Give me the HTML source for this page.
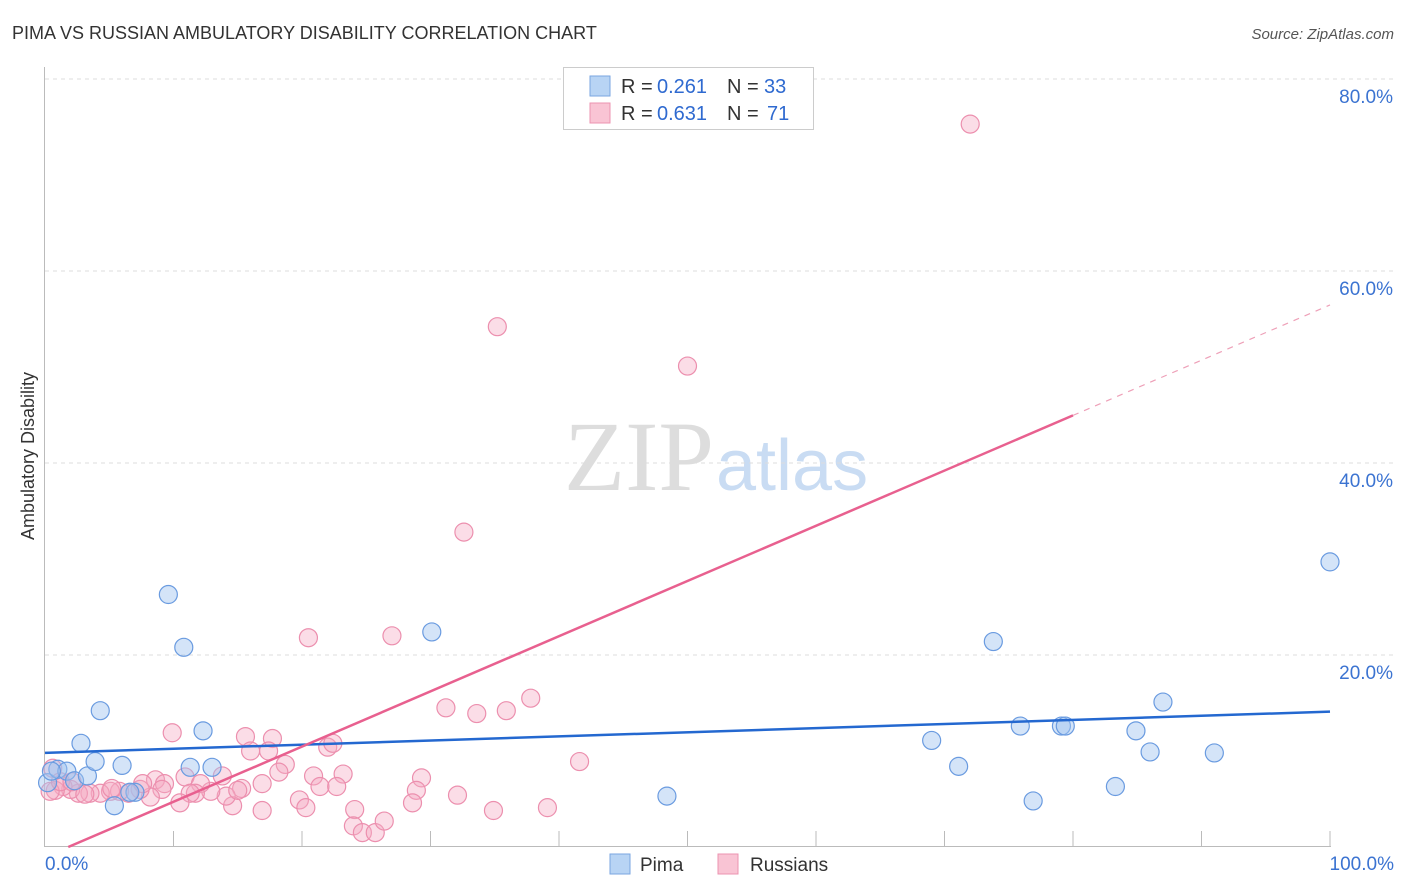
<!DOCTYPE html>
<html><head><meta charset="utf-8"><style>
body{margin:0;background:#fff;font-family:"Liberation Sans",sans-serif;}
svg{display:block}
</style></head><body>
<svg id="chart" width="1406" height="892">
<text x="12" y="39" font-size="18" fill="#333">PIMA VS RUSSIAN AMBULATORY DISABILITY CORRELATION CHART</text>
<text x="1394" y="39" font-size="15" fill="#555" font-style="italic" text-anchor="end">Source: ZipAtlas.com</text>
<text x="714" y="490" font-size="100" fill="#ddd" font-family="Liberation Serif,serif" text-anchor="end">ZIP</text>
<text x="716" y="490" font-size="72" fill="#c9dcf3">atlas</text>
<text transform="translate(34,456) rotate(-90)" font-size="18" fill="#333" text-anchor="middle">Ambulatory Disability</text>
<g id="grid"></g><g id="axes"></g><g id="marks"></g><g id="lines"></g>
<g>
<rect x="563.5" y="67.5" width="250" height="62" fill="#fff" stroke="#ccc"/>
<rect x="590" y="76" width="20" height="20" fill="#b8d4f4" stroke="#7aa6e0"/>
<text y="93" font-size="20" fill="#333"><tspan x="621">R =</tspan><tspan x="657" fill="#2f6ad0">0.261</tspan><tspan x="727">N =</tspan><tspan x="764" fill="#2f6ad0">33</tspan></text>
<rect x="590" y="103" width="20" height="20" fill="#f9c4d4" stroke="#ec93b0"/>
<text y="120" font-size="20" fill="#333"><tspan x="621">R =</tspan><tspan x="657" fill="#2f6ad0">0.631</tspan><tspan x="727">N =</tspan><tspan x="767" fill="#2f6ad0">71</tspan></text>
</g>
<rect x="610" y="854" width="20" height="20" fill="#b8d4f4" stroke="#7aa6e0"/>
<text x="640" y="871" font-size="19" fill="#333">Pima</text>
<rect x="718" y="854" width="20" height="20" fill="#f9c4d4" stroke="#ec93b0"/>
<text x="750" y="871" font-size="19" fill="#333">Russians</text>
</svg>
<script>
const yTicks=[20,40,60,80];
const yTickLabels=["20.0%","40.0%","60.0%","80.0%"];
const xTicks=[10,20,30,40,50,60,70,80,90,100];
const pimaX=[0.2,1.0,1.7,2.3,3.3,2.8,3.9,4.3,5.4,6.0,7.0,9.6,10.8,11.3,12.3,13.0,30.1,48.4,69.0,71.1,73.8,75.9,76.9,79.1,79.4,83.3,84.9,86.0,87.0,91.0,100,0.5,6.6];
const pimaY=[6.7,8.1,7.9,6.9,7.4,10.8,8.9,14.2,4.3,8.5,5.7,26.3,20.8,8.3,12.1,8.3,22.4,5.3,11.1,8.4,21.4,12.6,4.8,12.6,12.6,6.3,12.1,9.9,15.1,9.8,29.7,7.9,5.7];
const rusX=[72.0,35.2,50.0,32.6,20.5,27.0,31.2,33.6,35.9,37.8,41.6,9.9,15.6,17.7,16.0,17.4,22.0,22.4,18.7,18.2,13.8,10.9,8.6,9.3,20.9,23.2,29.3,28.9,28.6,32.1,39.1,34.9,24.1,24.0,24.7,25.7,26.4,21.4,22.7,19.8,20.3,16.9,14.6,15.3,16.9,14.1,12.9,12.1,11.7,11.3,10.5,9.1,8.2,7.4,6.5,5.8,5.1,4.3,3.5,2.6,2.0,1.4,0.8,0.4,0.6,1.2,2.1,7.6,5.2,3.1,15.0];
const rusY=[75.3,54.2,50.1,32.8,21.8,22.0,14.5,13.9,14.2,15.5,8.9,11.9,11.5,11.3,10.0,10.0,10.4,10.8,8.6,7.8,7.4,7.3,7.0,6.6,7.4,7.6,7.2,5.9,4.6,5.4,4.1,3.8,3.9,2.2,1.5,1.5,2.7,6.3,6.3,4.9,4.1,3.8,4.3,6.1,6.6,5.3,5.8,6.6,5.6,5.6,4.6,6.0,5.2,6.0,5.6,5.8,5.8,5.6,5.6,5.6,6.0,6.3,5.9,5.8,8.2,6.8,6.8,6.6,6.1,5.5,5.9];
const pimaTrend=[9.8,14.1];
const rusTrend=[-1.04,0.575];
const rusSolidEnd=80;
const X=v=>45+v*12.85, Y=v=>847-v*9.6;
const NS="http://www.w3.org/2000/svg";
function mk(parent,tag,attrs){const e=document.createElementNS(NS,tag);for(const k in attrs)e.setAttribute(k,attrs[k]);document.getElementById(parent).appendChild(e);return e;}
yTicks.forEach((t,i)=>{
 const g=mk('grid','line',{x1:45,x2:1394,y1:Y(t),y2:Y(t),stroke:'#ddd','stroke-dasharray':'4 4'});
 
 
 const l=mk('grid','text',{x:1393,y:Y(t)+24,'font-size':19,fill:'#3b73d1','text-anchor':'end'});
 l.textContent=yTickLabels[i];
 
 
});
const ya=mk('axes','line',{x1:44.5,x2:44.5,y1:67,y2:847,stroke:'#bbb'});


const xa=mk('axes','line',{x1:44,x2:1331,y1:846.5,y2:846.5,stroke:'#bbb'});


xTicks.forEach(t=>{
 const k=mk('axes','line',{x1:X(t),x2:X(t),y1:831,y2:847,stroke:'#bbb'});
 
 
});
const x0=mk('axes','text',{x:45,y:870,'font-size':19,fill:'#3b73d1'});x0.textContent='0.0%';


const x1=mk('axes','text',{x:1394,y:870,'font-size':19,fill:'#3b73d1','text-anchor':'end'});x1.textContent='100.0%';


rusX.forEach((v,i)=>{
 const c=mk('marks','circle',{cx:X(v),cy:Y(rusY[i]),r:9,fill:'rgba(246,170,196,0.4)',stroke:'#ec8fae','stroke-width':1.2});
 
 
});
pimaX.forEach((v,i)=>{
 const c=mk('marks','circle',{cx:X(v),cy:Y(pimaY[i]),r:9,fill:'rgba(160,196,240,0.45)',stroke:'#6a9be0','stroke-width':1.2});
 
 
});
const pl=mk('lines','line',{x1:X(0),y1:Y(pimaTrend[0]),x2:X(100),y2:Y(pimaTrend[1]),stroke:'#2468d0','stroke-width':2.5});


const xs=-rusTrend[0]/rusTrend[1];
const rl=mk('lines','line',{x1:X(xs),y1:Y(0),x2:X(rusSolidEnd),y2:Y(rusTrend[0]+rusTrend[1]*rusSolidEnd),stroke:'#e8608f','stroke-width':2.5});


const rd=mk('lines','line',{x1:X(rusSolidEnd),y1:Y(rusTrend[0]+rusTrend[1]*rusSolidEnd),x2:X(100),y2:Y(rusTrend[0]+rusTrend[1]*100),stroke:'#eea0b8','stroke-width':1.2,'stroke-dasharray':'6 6'});


</script>
</body></html>
